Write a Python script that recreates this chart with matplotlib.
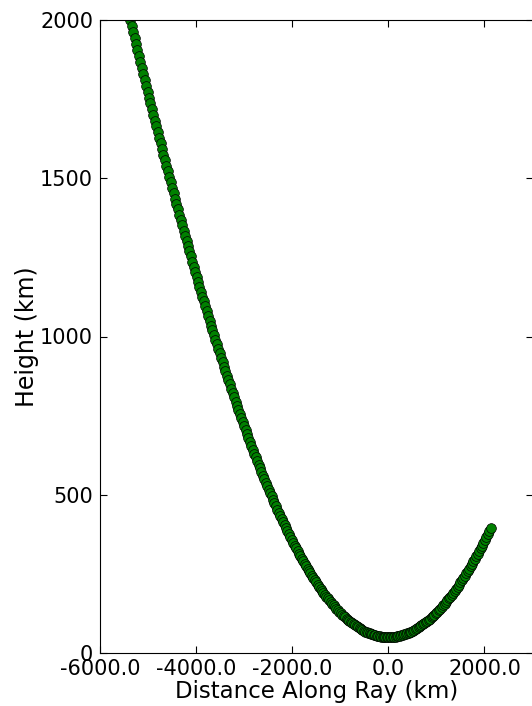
import matplotlib
matplotlib.use("Agg")
from matplotlib import pyplot as plt
from matplotlib.ticker import FormatStrFormatter

# ray path: distance along ray (km) and height (km)
dist_km = [
    -5430, -5400, -5370, -5340, -5310, -5280, -5250, -5220, -5190, -5160,
    -5130, -5100, -5070, -5040, -5010, -4980, -4950, -4920, -4890, -4860,
    -4830, -4800, -4770, -4740, -4710, -4680, -4650, -4620, -4590, -4560,
    -4530, -4500, -4470, -4440, -4410, -4380, -4350, -4320, -4290, -4260,
    -4230, -4200, -4170, -4140, -4110, -4080, -4050, -4020, -3990, -3960,
    -3930, -3900, -3870, -3840, -3810, -3780, -3750, -3720, -3690, -3660,
    -3630, -3600, -3570, -3540, -3510, -3480, -3450, -3420, -3390, -3360,
    -3330, -3300, -3270, -3240, -3210, -3180, -3150, -3120, -3090, -3060,
    -3030, -3000, -2970, -2940, -2910, -2880, -2850, -2820, -2790, -2760,
    -2730, -2700, -2670, -2640, -2610, -2580, -2550, -2520, -2490, -2460,
    -2430, -2400, -2370, -2340, -2310, -2280, -2250, -2220, -2190, -2160,
    -2130, -2100, -2070, -2040, -2010, -1980, -1950, -1920, -1890, -1860,
    -1830, -1800, -1770, -1740, -1710, -1680, -1650, -1620, -1590, -1560,
    -1530, -1500, -1470, -1440, -1410, -1380, -1350, -1320, -1290, -1260,
    -1230, -1200, -1170, -1140, -1110, -1080, -1050, -1020, -990, -960,
    -930, -900, -870, -840, -810, -780, -750, -720, -690, -660,
    -630, -600, -570, -540, -510, -480, -450, -420, -390, -360,
    -330, -300, -270, -240, -210, -180, -150, -120, -90, -60,
    -30, 0, 30, 60, 90, 120, 150, 180, 210, 240,
    270, 300, 330, 360, 390, 420, 450, 480, 510, 540,
    570, 600, 630, 660, 690, 720, 750, 780, 810, 840,
    870, 900, 930, 960, 990, 1020, 1050, 1080, 1110, 1140,
    1170, 1200, 1230, 1260, 1290, 1320, 1350, 1380, 1410, 1440,
    1470, 1500, 1530, 1560, 1590, 1620, 1650, 1680, 1710, 1740,
    1770, 1800, 1830, 1860, 1890, 1920, 1950, 1980, 2010, 2040,
    2070, 2100, 2130,
]

height_km = [
    2038.2, 2018.8, 1999.6, 1980.4, 1961.2, 1942.1, 1923.1, 1904.1, 1885.2, 1866.4,
    1847.6, 1829.0, 1810.4, 1791.8, 1773.3, 1754.9, 1736.5, 1718.2, 1700.0, 1681.9,
    1663.8, 1645.8, 1628.0, 1610.1, 1592.3, 1574.6, 1557.0, 1539.4, 1521.9, 1504.5,
    1487.2, 1469.9, 1452.7, 1435.6, 1418.6, 1401.6, 1384.7, 1368.0, 1351.2, 1334.6,
    1318.1, 1301.6, 1285.3, 1269.0, 1252.8, 1236.6, 1220.6, 1204.6, 1188.7, 1172.9,
    1157.2, 1141.6, 1126.1, 1110.6, 1095.3, 1080.0, 1064.8, 1049.7, 1034.7, 1019.8,
    1005.0, 990.3, 975.8, 961.3, 946.8, 932.5, 918.2, 904.0, 890.0, 876.0,
    862.2, 848.4, 834.8, 821.2, 807.7, 794.4, 781.1, 767.9, 754.9, 741.9,
    729.1, 716.3, 703.7, 691.1, 678.7, 666.3, 654.1, 642.0, 630.0, 618.1,
    606.3, 594.6, 583.1, 571.6, 560.2, 549.0, 537.9, 526.8, 515.9, 505.1,
    494.5, 483.9, 473.5, 463.1, 452.9, 442.8, 432.8, 423.0, 413.2, 403.6,
    394.1, 384.7, 375.4, 366.3, 357.3, 348.3, 339.6, 330.9, 322.3, 313.9,
    305.7, 297.5, 289.6, 281.6, 273.9, 266.2, 258.7, 251.2, 244.0, 236.8,
    229.8, 222.9, 216.2, 209.6, 203.0, 196.7, 190.4, 184.3, 178.3, 172.5,
    166.8, 161.2, 155.8, 150.5, 145.3, 140.2, 135.3, 130.6, 125.9, 121.4,
    117.0, 112.8, 108.7, 104.8, 100.9, 97.2, 93.7, 90.3, 87.0, 83.9,
    80.9, 78.0, 75.3, 72.7, 70.2, 67.9, 65.8, 63.7, 61.8, 60.1,
    58.5, 57.0, 55.7, 54.5, 53.4, 52.5, 51.8, 51.1, 50.6, 50.3,
    50.1, 50.0, 50.1, 50.3, 50.6, 51.1, 51.8, 52.5, 53.4, 54.5,
    55.7, 57.0, 58.5, 60.1, 61.8, 63.7, 65.8, 67.9, 70.2, 72.7,
    75.3, 78.0, 80.9, 83.9, 87.0, 90.3, 93.7, 97.2, 100.9, 104.8,
    108.7, 112.8, 117.0, 121.4, 125.9, 130.6, 135.3, 140.2, 145.3, 150.5,
    155.8, 161.2, 166.8, 172.5, 178.3, 184.3, 190.4, 196.7, 203.0, 209.6,
    216.2, 222.9, 229.8, 236.8, 244.0, 251.2, 258.7, 266.2, 273.9, 281.6,
    289.6, 297.5, 305.7, 313.9, 322.3, 330.9, 339.6, 348.3, 357.3, 366.3,
    375.4, 384.7, 394.1,
]

plt.rcParams['axes.unicode_minus'] = False
plt.rcParams['xtick.direction'] = 'in'
plt.rcParams['ytick.direction'] = 'in'
plt.rcParams['xtick.top'] = True
plt.rcParams['ytick.right'] = True

fig = plt.figure(figsize=(5.32, 7.06), dpi=100)
ax = fig.add_axes([100/532, 53/706, 432.5/532, 633/706])

ax.plot(dist_km, height_km, 'o', color='green', markeredgecolor='black',
        markeredgewidth=0.5, markersize=7)

ax.set_xlim(-6000, 3000)
ax.set_ylim(0, 2000)
ax.set_xticks([-6000, -4000, -2000, 0, 2000])
ax.set_yticks([0, 500, 1000, 1500, 2000])
ax.xaxis.set_major_formatter(FormatStrFormatter('%.1f'))
ax.tick_params(labelsize=15, length=5, width=0.8, pad=5)
ax.tick_params(axis='x', pad=4)
ax.set_xlabel("Distance Along Ray (km)", fontsize=16.5, labelpad=1)
ax.set_ylabel("Height (km)", fontsize=17, labelpad=1)

fig.savefig("out.png", dpi=100)
